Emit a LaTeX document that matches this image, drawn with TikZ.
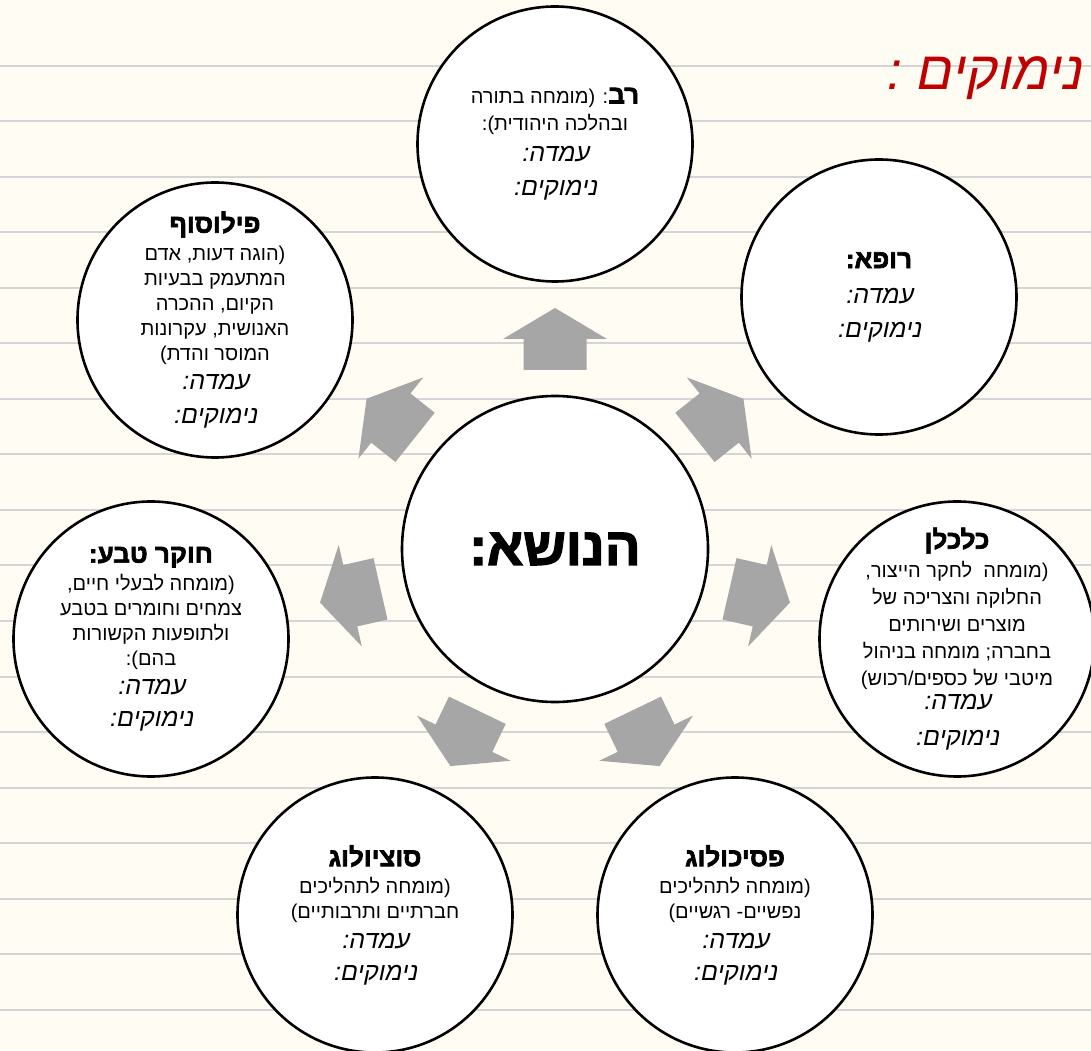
\documentclass[tikz,border=0pt]{standalone}
\usepackage{fontspec}
\usetikzlibrary{calc}
\TeXXeTstate=1
\newfontfamily\hebfont[Script=Hebrew]{Liberation Sans}
\newfontfamily\hebbold[Script=Hebrew,FakeBold=2.5]{Liberation Sans Bold}
\newfontfamily\hebhand[Script=Hebrew,FakeSlant=0.2]{Liberation Sans}
\newcommand{\rtl}[1]{\beginR#1\endR}
\newcommand{\headfont}{\hebbold\fontsize{26}{30}\selectfont}
\newcommand{\handfont}{\hebhand\fontsize{25}{30}\selectfont}
\newcommand{\stance}{{\handfont\rtl{עמדה:}}}
\newcommand{\reasons}{{\handfont\rtl{נימוקים:}}}
\definecolor{paper}{HTML}{FFFCF3}
\definecolor{ruling}{HTML}{D5D5D5}
\definecolor{arrowgray}{HTML}{A6A6A6}
\definecolor{titlered}{HTML}{C00000}
\tikzset{
  expert/.style={circle, draw=black, line width=2.6pt, fill=white, minimum size=275pt, inner sep=0pt},
  info/.style={align=center, inner sep=0pt, font=\hebfont\fontsize{20}{25}\selectfont},
}
\begin{document}
\begin{tikzpicture}[x=1pt,y=1pt]
\useasboundingbox (0,0) rectangle (1091,1050);
\fill[paper] (0,0) rectangle (1091,1050);
\foreach \i in {0,...,17}
  \draw[ruling, line width=2pt] (0,{984-55.5*\i}) -- (1091,{984-55.5*\i});
\node[expert, minimum size=306pt] (topic) at (555,501){};
\node[font=\hebbold\fontsize{53}{60}\selectfont] (topicTxt) at (topic){\rtl{הנושא:}};
\foreach \k in {0,...,6}{
  \pgfmathsetmacro{\ang}{90+\k*360/7}
  \fill[arrowgray, shift={($(topic.center)+(\ang:210)$)}, rotate=\ang]
    (-31,-31.5) -- (0,-31.5) -- (0,-52) -- (31,0) -- (0,52) -- (0,31.5) -- (-31,31.5) -- cycle;
}
\node[expert] (rabbi) at (555,906){};
\node[info] (rabbiTxt) at (rabbi){\rtl{{\headfont רב}: (מומחה בתורה}\\[2pt] \rtl{ובהלכה היהודית):}\\[6pt] \stance\\[9pt] \reasons};
\node[expert] (doctor) at (879,753){};
\node[info] (doctorTxt) at (doctor){{\headfont\rtl{רופא:}}\\[10pt] \stance\\[9pt] \reasons};
\node[expert] (philosopher) at (215,730){};
\node[info] (philosopherTxt) at (philosopher){{\headfont\rtl{פילוסוף}}\\[3pt] \rtl{(הוגה דעות, אדם}\\ \rtl{המתעמק בבעיות}\\ \rtl{הקיום, ההכרה}\\ \rtl{האנושית, עקרונות}\\ \rtl{המוסר והדת)}\\[4pt] \stance\\[9pt] \reasons};
\node[expert] (economist) at (957,411){};
\node[info, font=\hebfont\fontsize{20}{27}\selectfont] (economistTxt) at (economist){{\headfont\rtl{כלכלן}}\\[2pt] \rtl{(מומחה\ \ לחקר הייצור,}\\ \rtl{החלוקה והצריכה של}\\ \rtl{מוצרים ושירותים}\\ \rtl{בחברה; מומחה בניהול}\\ \rtl{מיטבי של כספים/רכוש)}\\[-3pt] \stance\\[9pt] \reasons};
\node[expert] (naturalist) at (151,411){};
\node[info] (naturalistTxt) at (naturalist){{\headfont\rtl{חוקר טבע:}}\\[3pt] \rtl{(מומחה לבעלי חיים,}\\ \rtl{צמחים וחומרים בטבע}\\ \rtl{ולתופעות הקשורות}\\ \rtl{בהם):}\\[4pt] \stance\\[7pt] \reasons};
\node[expert] (sociologist) at (375,135){};
\node[info] (sociologistTxt) at (sociologist){{\headfont\rtl{סוציולוג}}\\[2pt] \rtl{(מומחה לתהליכים}\\ \rtl{חברתיים ותרבותיים)}\\[5pt] \stance\\[7pt] \reasons};
\node[expert] (psychologist) at (735,135){};
\node[info] (psychologistTxt) at (psychologist){{\headfont\rtl{פסיכולוג}}\\[2pt] \rtl{(מומחה לתהליכים}\\ \rtl{נפשיים- רגשיים)}\\[5pt] \stance\\[7pt] \reasons};
\node[font=\hebhand\fontsize{54}{60}\selectfont, text=titlered] (heading) at (983,972){\rtl{נימוקים :}};
\end{tikzpicture}
\end{document}
